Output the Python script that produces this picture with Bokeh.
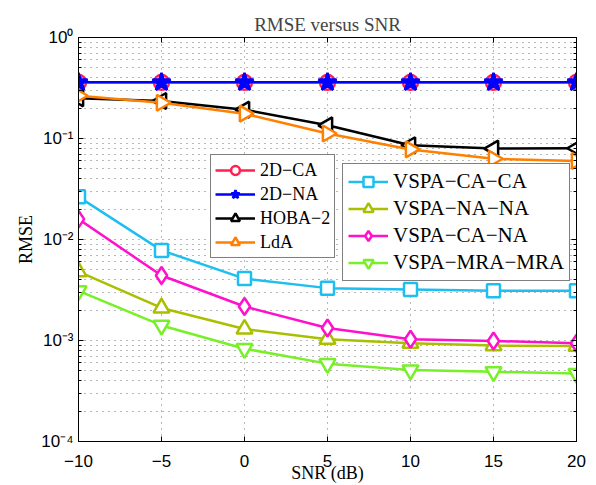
import math
from bokeh.plotting import figure
from bokeh.models import (LogAxis, LinearAxis, Legend, LegendItem, CustomJSTickFormatter,
                          FixedTicker, Range1d, ColumnDataSource)
from bokeh.embed import file_html
from bokeh.resources import INLINE

# ---------------- data ----------------
snr = [-10, -5, 0, 5, 10, 15, 20]
x_ticks = [-10, -5, 0, 5, 10, 15, 20]
y_decades = [-4, -3, -2, -1, 0]

rmse_2d_ca = [0.36, 0.36, 0.36, 0.36, 0.36, 0.36, 0.36]
rmse_2d_na = [0.36, 0.36, 0.36, 0.36, 0.36, 0.36, 0.36]
rmse_hoba2 = [0.250, 0.235, 0.193, 0.135, 0.0858, 0.0795, 0.080]
rmse_lda = [0.265, 0.226, 0.176, 0.112, 0.078, 0.063, 0.060]
rmse_vspa_ca_ca = [0.0265, 0.0078, 0.0041, 0.0033, 0.0032, 0.0031, 0.0031]
rmse_vspa_na_na = [0.0048, 0.0021, 0.0013, 0.00103, 0.00094, 0.00089, 0.00088]
rmse_vspa_ca_na = [0.0159, 0.0044, 0.00217, 0.00133, 0.00103, 0.00099, 0.00094]
rmse_vspa_mra_mra = [0.0031, 0.00141, 0.00083, 0.00059, 0.00051, 0.00049, 0.00047]

labels = ["2D\u2212CA", "2D\u2212NA", "HOBA\u22122", "LdA",
          "VSPA\u2212CA\u2212CA", "VSPA\u2212NA\u2212NA", "VSPA\u2212CA\u2212NA", "VSPA\u2212MRA\u2212MRA"]

SERIF = "Liberation Serif"
SANS = "Liberation Sans"

p = figure(width=596, height=485, x_range=Range1d(-10, 20), y_range=Range1d(1e-4, 1),
           y_axis_type="log", output_backend="svg", toolbar_location=None,
           min_border_left=78, min_border_right=20, min_border_top=37, min_border_bottom=43,
           title="RMSE versus SNR")
p.background_fill_color = "white"
p.border_fill_color = "white"
p.outline_line_color = "black"
p.outline_line_width = 1

p.title.text_font = SERIF
p.title.text_font_size = "19px"
p.title.text_font_style = "normal"
p.title.align = "center"
p.title.offset = 0
p.title.standoff = 6

# ticks
minor = [k * 10.0 ** e for e in y_decades[:-1] for k in range(2, 10)]
yticker = FixedTicker(ticks=[10.0 ** e for e in y_decades], minor_ticks=minor)
xticker = FixedTicker(ticks=x_ticks)

xfmt = CustomJSTickFormatter(code="return tick < 0 ? '\\u2212' + Math.abs(tick) : String(tick);")
yfmt = CustomJSTickFormatter(code="""
const sup = {'-':'\\u207b','0':'\\u2070','1':'\\u00b9','2':'\\u00b2','3':'\\u00b3','4':'\\u2074'};
const e = Math.round(Math.log10(tick));
return '10' + String(e).split('').map(c => sup[c]).join('');
""")

xa = p.xaxis[0]
xa.ticker = xticker
xa.formatter = xfmt
xa.axis_label = "SNR (dB)"
ya = p.yaxis[0]
ya.ticker = yticker
ya.formatter = yfmt
ya.axis_label = "RMSE"

for ax in (xa, ya):
    ax.major_tick_in = 5
    ax.major_tick_out = 0
    ax.minor_tick_in = 3
    ax.minor_tick_out = 0
    ax.axis_line_color = "black"
    ax.major_tick_line_color = "black"
    ax.minor_tick_line_color = "black"
    ax.major_label_text_font = SANS
    ax.major_label_text_font_size = "17px"
    ax.major_label_text_color = "black"
    ax.axis_label_text_font = SERIF
    ax.axis_label_text_font_size = "18px"
    ax.axis_label_text_font_style = "normal"
    ax.axis_label_text_color = "black"
xa.minor_tick_line_color = None
xa.major_label_standoff = 13
xa.axis_label_standoff = -7
ya.major_label_standoff = 5
ya.axis_label_standoff = 2

# top and right ticks (box), no labels drawn
top = LinearAxis(ticker=xticker)
right = LogAxis(ticker=yticker)
for ax in (top, right):
    ax.major_tick_in = 5
    ax.major_tick_out = 0
    ax.minor_tick_in = 3
    ax.minor_tick_out = 0
    ax.major_label_text_font_size = "1px"
    ax.major_label_text_color = None
    ax.major_label_standoff = 0
    ax.axis_line_color = "black"
top.minor_tick_line_color = None
p.add_layout(top, "above")
p.add_layout(right, "right")

# grids
p.xgrid.ticker = xticker
p.ygrid.ticker = yticker
for g in (p.xgrid[0], p.ygrid[0]):
    g.grid_line_color = "#333333"
    g.grid_line_dash = "1 5"
    g.grid_line_width = 1
    g.grid_line_alpha = 0.7
p.ygrid.minor_grid_line_color = "#333333"
p.ygrid.minor_grid_line_dash = "1 5"
p.ygrid.minor_grid_line_alpha = 0.7

LW = 2.5
specs = [
    (rmse_2d_ca, "#FF2050", "circle", 0.0, "white", 15),
    (rmse_2d_na, "#0000FF", "star", 0.0, "#0000FF", 19),
    (rmse_hoba2, "#000000", "triangle", math.pi / 2, "white", 16),
    (rmse_lda, "#FF8000", "triangle", -math.pi / 2, "white", 16),
    (rmse_vspa_ca_ca, "#1EBEF0", "square", 0.0, "white", 13),
    (rmse_vspa_na_na, "#AABF00", "triangle", 0.0, "white", 16),
    (rmse_vspa_ca_na, "#FF10CC", "diamond", 0.0, "white", 17),
    (rmse_vspa_mra_mra, "#78F028", "inverted_triangle", 0.0, "white", 16),
]

items = []
for lab, (vals, col, mk, ang, fill, sz) in zip(labels, specs):
    src = ColumnDataSource(dict(x=snr, y=vals, a=[ang] * len(snr)))
    lr = p.line("x", "y", source=src, line_color=col, line_width=LW)
    sr = p.scatter("x", "y", source=src, marker=mk, size=sz, angle="a", angle_units="rad",
                   line_color=col, fill_color=fill, line_width=LW)
    items.append(LegendItem(label=lab, renderers=[lr, sr]))

leg1 = Legend(items=items[:4], location=(132, 183))
leg2 = Legend(items=items[4:], location=(264, 160))
for lg, fs, h, pad in ((leg1, "18px", 22, 4), (leg2, "21px", 25, 5)):
    lg.label_text_font = SERIF
    lg.label_text_font_size = fs
    lg.label_text_color = "black"
    lg.glyph_width = 40
    lg.glyph_height = h
    lg.label_height = h
    lg.spacing = 2
    lg.padding = pad
    lg.margin = 0
    lg.label_standoff = 5
    lg.border_line_color = "black"
    lg.border_line_width = 1
    lg.background_fill_color = "white"
    lg.background_fill_alpha = 1.0
    p.add_layout(lg, "center")

open("out.html", "w").write(file_html(p, INLINE))
